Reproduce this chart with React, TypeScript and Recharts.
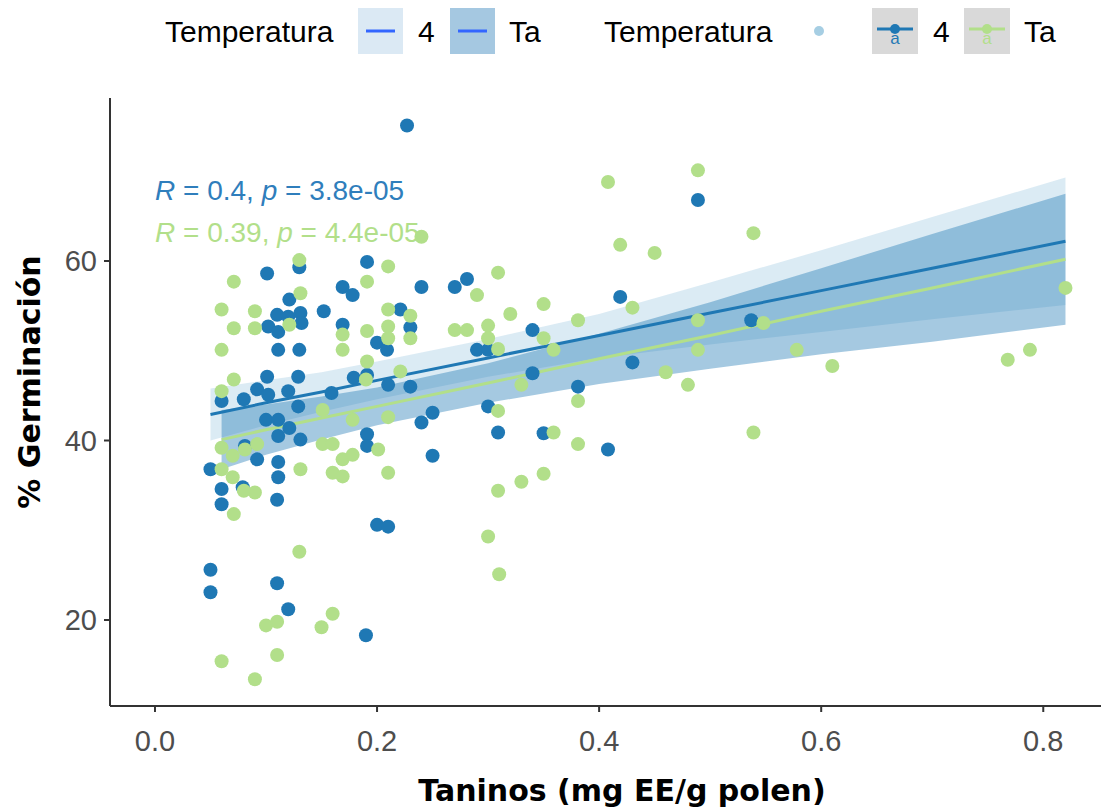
import { ComposedChart, Scatter, Area, Line, XAxis, YAxis, Label } from 'recharts'

// taninos (x) vs % germinación (y), temperatura 4
const germ4: [number, number][] = [
  [0.227, 75.1], [0.489, 66.8], [0.191, 59.9], [0.101, 58.6], [0.13, 59.3],
  [0.24, 57.1], [0.27, 57.1], [0.281, 58.0], [0.169, 57.1], [0.178, 56.2],
  [0.121, 55.7], [0.152, 54.4], [0.221, 54.6], [0.11, 54.0], [0.12, 53.8],
  [0.131, 54.2], [0.132, 53.1], [0.102, 52.7], [0.111, 52.1], [0.111, 50.1],
  [0.13, 50.1], [0.169, 52.9], [0.2, 50.9], [0.209, 50.1], [0.23, 52.6],
  [0.29, 50.1], [0.3, 50.1], [0.34, 52.3], [0.419, 56.0], [0.537, 53.4],
  [0.43, 48.7], [0.34, 47.5], [0.23, 46.0], [0.381, 46.0], [0.3, 43.8],
  [0.25, 43.1], [0.24, 42.0], [0.309, 40.9], [0.35, 40.8], [0.408, 39.0],
  [0.25, 38.3], [0.101, 47.1], [0.129, 47.1], [0.092, 45.7], [0.102, 45.1],
  [0.06, 44.4], [0.08, 44.6], [0.12, 45.5], [0.129, 43.8], [0.159, 45.3],
  [0.179, 47.0], [0.191, 47.3], [0.21, 46.2], [0.1, 42.3], [0.111, 42.3],
  [0.121, 41.4], [0.111, 40.5], [0.131, 40.1], [0.191, 40.7], [0.191, 39.4],
  [0.092, 37.9], [0.081, 39.4], [0.05, 36.8], [0.111, 37.6], [0.111, 35.9],
  [0.06, 34.6], [0.079, 34.8], [0.06, 32.9], [0.11, 33.4], [0.05, 25.6],
  [0.05, 23.1], [0.11, 24.1], [0.12, 21.2], [0.19, 18.3], [0.2, 30.6],
  [0.21, 30.4],
]

// temperatura ambiente (Ta)
const germTa: [number, number][] = [
  [0.489, 70.1], [0.408, 68.8], [0.419, 61.8], [0.539, 63.1], [0.45, 60.9],
  [0.24, 62.7], [0.309, 58.7], [0.29, 56.2], [0.35, 55.2], [0.32, 54.1],
  [0.23, 53.9], [0.23, 51.4], [0.27, 52.3], [0.281, 52.3], [0.3, 52.8],
  [0.3, 51.4], [0.309, 50.2], [0.381, 53.4], [0.35, 51.4], [0.359, 50.1],
  [0.43, 54.8], [0.221, 47.7], [0.33, 46.2], [0.309, 43.3], [0.381, 44.4],
  [0.359, 40.9], [0.381, 39.6], [0.35, 36.3], [0.33, 35.4], [0.309, 34.4],
  [0.3, 29.3], [0.31, 25.1], [0.13, 60.1], [0.071, 57.7], [0.131, 56.4],
  [0.06, 54.6], [0.09, 54.4], [0.071, 52.5], [0.09, 52.5], [0.121, 52.9],
  [0.06, 50.1], [0.071, 46.8], [0.06, 45.5], [0.191, 57.7], [0.21, 59.4],
  [0.21, 54.6], [0.169, 51.8], [0.169, 50.1], [0.191, 52.2], [0.21, 52.7],
  [0.21, 51.4], [0.191, 48.8], [0.19, 46.8], [0.06, 39.2], [0.07, 38.3],
  [0.081, 39.0], [0.092, 39.6], [0.06, 36.8], [0.07, 35.9], [0.131, 36.8],
  [0.151, 39.6], [0.16, 39.6], [0.169, 37.9], [0.178, 38.4], [0.16, 36.4],
  [0.169, 36.0], [0.201, 39.0], [0.21, 36.4], [0.178, 42.3], [0.21, 42.6],
  [0.151, 43.4], [0.071, 31.8], [0.09, 34.2], [0.08, 34.4], [0.06, 15.4],
  [0.09, 13.4], [0.11, 16.1], [0.1, 19.4], [0.11, 19.8], [0.15, 19.2],
  [0.16, 20.7], [0.13, 27.6], [0.768, 49.0], [0.788, 50.1], [0.82, 57.0],
  [0.61, 48.3], [0.578, 50.1], [0.539, 40.9], [0.548, 53.1], [0.489, 53.4],
  [0.489, 50.1], [0.46, 47.6], [0.48, 46.2],
]

// regression line + confidence band
const fitX4 = [0.05, 0.1, 0.15, 0.2, 0.3, 0.4, 0.5, 0.6, 0.7, 0.82]
const fit4 = [42.9, 44.2, 45.4, 46.7, 49.2, 51.7, 54.2, 56.7, 59.2, 62.2]
const low4 = [40.0, 41.7, 43.2, 44.6, 47.1, 49.2, 50.7, 52.1, 53.5, 55.1]
const high4 = [45.8, 46.7, 47.6, 48.8, 51.3, 54.1, 57.6, 61.2, 64.9, 69.3]

const fitXTa = [0.06, 0.1, 0.15, 0.2, 0.3, 0.4, 0.5, 0.6, 0.7, 0.82]
const fitTa = [40.1, 41.2, 42.5, 43.8, 46.4, 49.1, 51.7, 54.4, 57.0, 60.2]
const lowTa = [36.8, 38.4, 40.1, 41.7, 44.2, 46.3, 48.0, 49.6, 51.0, 52.9]
const highTa = [43.4, 44.0, 44.9, 45.9, 48.6, 51.9, 55.4, 59.2, 63.0, 67.5]

const xTicks = [0, 0.2, 0.4, 0.6, 0.8]
const yTicks = [20, 40, 60]

const BLUE = '#1f78b4'
const GREEN = '#b2df8a'
const LIGHT = '#a6cee3'

const pts4 = germ4.map(([x, y]) => ({ x, y }))
const ptsTa = germTa.map(([x, y]) => ({ x, y }))
const band4 = fitX4.map((x, i) => ({ x, range: [low4[i], high4[i]], fit: fit4[i] }))
const bandTa = fitXTa.map((x, i) => ({ x, range: [lowTa[i], highTa[i]], fit: fitTa[i] }))

const dot = (color: string) => (props: any) => (
  <circle cx={props.cx} cy={props.cy} r={7} fill={color} />
)

const tickStyle = { fontFamily: 'Liberation Sans, Arial, sans-serif', fontSize: 29, fill: '#4d4d4d' }
const titleStyle = { fontFamily: 'DejaVu Sans, sans-serif', fontSize: 30, fontWeight: 700, fill: '#000' }

const Legend = () => (
  <svg width={1101} height={64} style={{ position: 'absolute', left: 0, top: 0 }}>
    <g style={{ fontFamily: 'Liberation Sans, Arial, sans-serif', fontSize: 30 }} fill="#000">
      <text x={165} y={42}>Temperatura</text>
      <rect x={358} y={8} width={45} height={46} fill="#dbe9f4" />
      <line x1={366} x2={395} y1={31} y2={31} stroke="#3366ff" strokeWidth={3} />
      <text x={418} y={42}>4</text>
      <rect x={450} y={8} width={45} height={46} fill="#a5c8e1" />
      <line x1={458} x2={487} y1={31} y2={31} stroke="#3366ff" strokeWidth={3} />
      <text x={509} y={42}>Ta</text>

      <text x={604} y={42}>Temperatura</text>
      <circle cx={819} cy={31} r={5} fill={LIGHT} />
      <rect x={872} y={8} width={46} height={46} fill="#d9d9d9" />
      <line x1={877} x2={913} y1={29} y2={29} stroke={BLUE} strokeWidth={3} />
      <circle cx={895} cy={29} r={5} fill={BLUE} />
      <text x={895} y={44} textAnchor="middle" fontSize={17} fill={BLUE}>a</text>
      <text x={933} y={42}>4</text>
      <rect x={964} y={8} width={46} height={46} fill="#d9d9d9" />
      <line x1={969} x2={1005} y1={29} y2={29} stroke={GREEN} strokeWidth={3} />
      <circle cx={987} cy={29} r={5} fill={GREEN} />
      <text x={987} y={44} textAnchor="middle" fontSize={17} fill={GREEN}>a</text>
      <text x={1024} y={42}>Ta</text>
    </g>
  </svg>
)

const Stats = () => (
  <svg width={1101} height={808} style={{ position: 'absolute', left: 0, top: 0, pointerEvents: 'none' }}>
    <g style={{ fontFamily: 'Liberation Sans, Arial, sans-serif', fontSize: 28 }}>
      <text x={155} y={200} fill="#2f7ebc">
        <tspan fontStyle="italic">R</tspan> = 0.4, <tspan fontStyle="italic">p</tspan> = 3.8e-05
      </text>
      <text x={155} y={242} fill={GREEN}>
        <tspan fontStyle="italic">R</tspan> = 0.39, <tspan fontStyle="italic">p</tspan> = 4.4e-05
      </text>
    </g>
  </svg>
)

export default function App() {
  return (
    <div style={{ position: 'absolute', left: 0, top: 0, width: 1101, height: 808, overflow: 'hidden', background: '#fff' }}>
      <ComposedChart width={1111} height={808} margin={{ top: 98, right: 0, bottom: 0, left: 0 }}>
        <XAxis
          type="number"
          dataKey="x"
          domain={[-0.0405, 0.861]}
          allowDataOverflow
          ticks={xTicks}
          tickFormatter={(v: number) => v.toFixed(1)}
          height={102}
          tickSize={6}
          tickMargin={18}
          tick={tickStyle}
          axisLine={{ stroke: '#333', strokeWidth: 2 }}
          tickLine={{ stroke: '#333', strokeWidth: 2 }}
        >
          <Label
            content={() => (
              <text x={622} y={801} textAnchor="middle" style={titleStyle}>
                Taninos (mg EE/g polen)
              </text>
            )}
          />
        </XAxis>
        <YAxis
          type="number"
          domain={[10.42, 78.16]}
          allowDataOverflow
          ticks={yTicks}
          width={110}
          tickSize={6}
          tickMargin={7}
          tick={tickStyle}
          axisLine={{ stroke: '#333', strokeWidth: 2 }}
          tickLine={{ stroke: '#333', strokeWidth: 2 }}
        >
          <Label
            content={() => (
              <text x={40} y={382} textAnchor="middle" transform="rotate(-90 40 382)" style={titleStyle}>
                % Germinación
              </text>
            )}
          />
        </YAxis>

        <Scatter data={pts4} dataKey="y" shape={dot(BLUE)} isAnimationActive={false} />
        <Scatter data={ptsTa} dataKey="y" shape={dot(GREEN)} isAnimationActive={false} />

        <Area data={band4} dataKey="range" type="linear" stroke="none" fill={LIGHT} fillOpacity={0.4} isAnimationActive={false} />
        <Line data={band4} dataKey="fit" type="linear" stroke={BLUE} strokeWidth={3} dot={false} isAnimationActive={false} />
        <Area data={bandTa} dataKey="range" type="linear" stroke="none" fill={BLUE} fillOpacity={0.4} isAnimationActive={false} />
        <Line data={bandTa} dataKey="fit" type="linear" stroke={GREEN} strokeWidth={3} dot={false} isAnimationActive={false} />
      </ComposedChart>
      <Legend />
      <Stats />
    </div>
  )
}
